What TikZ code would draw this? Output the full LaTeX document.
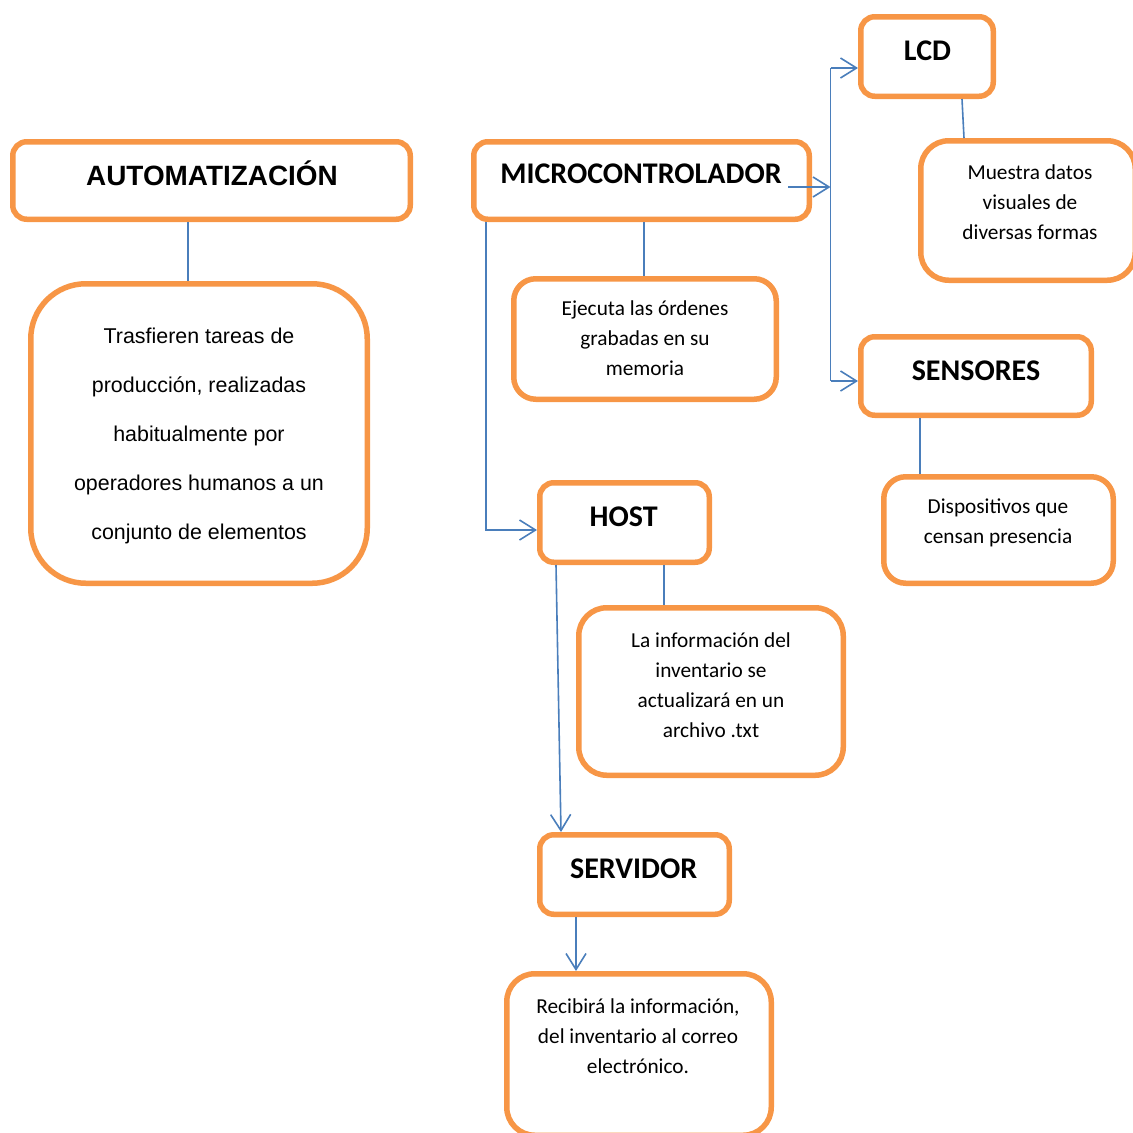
\documentclass[tikz,border=0pt]{standalone}
\usepackage{fontspec}
\setmainfont{Carlito}
\newfontfamily\arialfont{Liberation Sans}
\usetikzlibrary{arrows.meta}

\definecolor{boxorange}{HTML}{F79646}
\definecolor{linkblue}{HTML}{4A7EBB}

\tikzset{
  box/.style={draw=boxorange, line width=5.5pt, fill=white, inner sep=0pt,
    rounded corners=#1},
  box/.default=14pt,
  title/.style={anchor=base, inner sep=0pt,
    font=\fontsize{30}{36}\selectfont\bfseries},
  desc/.style={inner sep=0pt, align=center,
    font=\fontsize{21.3}{30}\selectfont},
  link/.style={draw=linkblue, line width=1.6pt},
  arr/.style={link, -{Straight Barb[length=16pt, width=20pt, line width=1.6pt]}},
}

\begin{document}
\begin{tikzpicture}[x=1pt, y=-1pt]
\useasboundingbox (0,0) rectangle (1133,1133);
\begin{scope}
\clip (0,0) rectangle (1133,1133);

% boxes
\node[box, minimum width=397.5pt, minimum height=77.5pt] (autoT) at (211.5,180.5) {};
\node[box=55pt, minimum width=336.5pt, minimum height=299.5pt] (autoD) at (199,433.5) {};
\node[box, minimum width=335.5pt, minimum height=77.5pt] (micro) at (641.5,180.5) {};
\node[box=22pt, minimum width=262.5pt, minimum height=120.5pt] (microD) at (645,339) {};
\node[box, minimum width=132.5pt, minimum height=79.5pt] (lcd) at (927,56.5) {};
\node[box=28pt, minimum width=214.5pt, minimum height=139.5pt] (lcdD) at (1028,210.5) {};
\node[box, minimum width=230.5pt, minimum height=78.5pt] (sens) at (976,376) {};
\node[box=22pt, minimum width=229.5pt, minimum height=106.5pt] (sensD) at (998.5,530) {};
\node[box, minimum width=169.5pt, minimum height=79.5pt] (host) at (624.5,522.5) {};
\node[box=28pt, minimum width=264.5pt, minimum height=167.5pt] (hostD) at (711,691.5) {};
\node[box, minimum width=189.5pt, minimum height=79.5pt] (serv) at (634.5,874.5) {};
\node[box=28pt, minimum width=264.5pt, minimum height=161.5pt] (servD) at (639,1054.5) {};

% titles
\node[title, font=\arialfont\fontsize{27.9}{33}\selectfont\bfseries] (tAuto) at (212,185) {AUTOMATIZACIÓN};
\node[title] (tMicro) at (641,183) {MICROCONTROLADOR};
\node[title] (tLcd) at (927.5,60) {LCD};
\node[title] (tSens) at (976,380) {SENSORES};
\node[title] (tHost) at (623.7,526) {HOST};
\node[title] (tServ) at (633.7,878) {SERVIDOR};

% descriptions
\node[desc, font=\arialfont\fontsize{21.4}{49}\selectfont] (dAuto) at (199,431.2)
  {\strut Trasfieren tareas de\\\strut producción, realizadas\\\strut habitualmente por\\\strut operadores humanos a un\\\strut conjunto de elementos};
\node[desc] (dMicro) at (645,339)
  {\strut Ejecuta las órdenes\\\strut grabadas en su\\\strut memoria};
\node[desc] (dLcd) at (1030,203)
  {\strut Muestra datos\\\strut visuales de\\\strut diversas formas};
\node[desc] (dSens) at (998,522)
  {\strut Dispositivos que\\\strut censan presencia};
\node[desc] (dHost) at (711,686.5)
  {\strut La información del\\\strut inventario se\\\strut actualizará en un\\\strut archivo .txt};
\node[desc] (dServ) at (638,1037)
  {\strut Recibirá la información,\\\strut del inventario al correo\\\strut electrónico.};

% connectors
\draw[link] ([xshift=-23.5pt]autoT.south) -- ([xshift=-11pt]autoD.north);
\draw[link] ([xshift=2.5pt]micro.south) -- ([xshift=-1pt]microD.north);
\draw[link] ([xshift=35pt]lcd.south) -- ([xshift=-64pt]lcdD.north);
\draw[link] ([xshift=-56pt]sens.south) -- ([xshift=-78.5pt]sensD.north);
\draw[link] ([xshift=39.5pt]host.south) -- ([xshift=-47pt]hostD.north);

\coordinate (busT) at (830.5,68);
\coordinate (busB) at (830.5,381);
\coordinate (mTap) at (788,187);
\draw[link] (busT) -- (busB);
\draw[arr] (mTap) -- (mTap -| busT);
\draw[arr] (busT) -- (lcd.west |- busT);
\draw[arr] (busB) -- (sens.west |- busB);

\draw[arr] ([xshift=15pt]micro.south west) |- ([yshift=-7.5pt]host.west);
\draw[arr] ([xshift=-68.5pt]host.south) -- ([xshift=-73.5pt]serv.north);
\draw[arr] ([xshift=-58.5pt]serv.south) -- ([xshift=-63pt]servD.north);
\end{scope}
\end{tikzpicture}
\end{document}
